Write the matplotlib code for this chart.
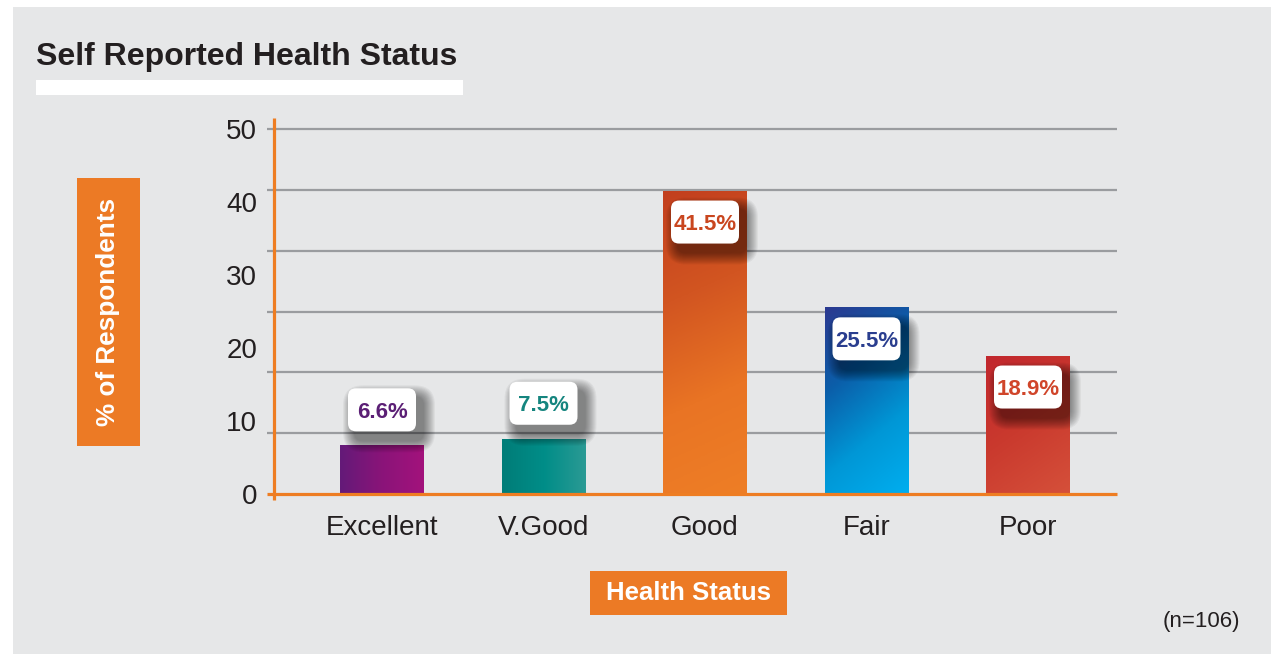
import numpy as np
import matplotlib
matplotlib.use("Agg")
import matplotlib.pyplot as plt
import matplotlib.transforms as mtransforms
from matplotlib.patches import Rectangle, FancyBboxPatch
from matplotlib.colors import LinearSegmentedColormap

plt.rcParams['font.family'] = ['Liberation Sans', 'DejaVu Sans']

# ---- data ----
categories = ["Excellent", "V.Good", "Good", "Fair", "Poor"]
values = [6.6, 7.5, 41.5, 25.5, 18.9]
value_labels = ["6.6%", "7.5%", "41.5%", "25.5%", "18.9%"]
y_ticks = [0, 10, 20, 30, 40, 50]
title = "Self Reported Health Status"
y_title = "% of Respondents"
x_title = "Health Status"
note = "(n=106)"

# ---- styling ----
W, H = 1271, 654
BG = "#e6e7e8"
ORANGE = "#ee7d22"
DARK = "#231f20"
GRID = "#9a9c9f"

# gradient stops and direction (dx, dy in pixel space) per bar
bar_gradients = [
    (["#641a78", "#8a1479", "#a3127c"], (1.0, 0.0)),
    (["#007d78", "#008d88", "#2a9a94"], (1.0, 0.0)),
    (["#c23f1e", "#d25521", "#e97424", "#ee7e26"], (0.45, 1.0)),
    (["#2b3990", "#0b5ea9", "#0097d6", "#00aeef"], (0.8, 1.0)),
    (["#c1272d", "#ca3a2e", "#d5503a"], (0.7, 1.0)),
]
label_colors = ["#5b1f75", "#15857f", "#c9461f", "#2a3e8f", "#d0452a"]


def fx(x):
    return x / W


def fy(y):
    return 1 - y / H


fig = plt.figure(figsize=(W / 100, H / 100), dpi=100, facecolor="white")

# panel background
fig.add_artist(Rectangle((fx(13), 0), 1 - fx(13), fy(7), transform=fig.transFigure,
                         facecolor=BG, edgecolor="none", zorder=-10))

# title and white rule beneath it
fig.text(fx(36), fy(65), title, fontsize=23, fontweight="bold", color=DARK,
         ha="left", va="baseline")
fig.add_artist(Rectangle((fx(36), fy(95)), fx(463) - fx(36), fy(80) - fy(95),
                         transform=fig.transFigure, facecolor="white",
                         edgecolor="none"))

# axes
ax_l, ax_r, ax_t, ax_b = 274, 1117, 129, 494
ax = fig.add_axes([fx(ax_l), fy(ax_b), (ax_r - ax_l) / W, (ax_b - ax_t) / H])
ax.set_facecolor("none")
for s in ax.spines.values():
    s.set_visible(False)

unit = 161.5  # pixels per category step
x0c = 382     # pixel centre of first category
xmin = (ax_l - x0c) / unit
xmax = (ax_r - x0c) / unit
ymax = 50
ppu = (ax_b - ax_t) / ymax  # pixels per percentage point

# gridlines (six equal bands) with small stubs left of the axis
grid_levels = np.linspace(0, ymax, 7)
ax.hlines(grid_levels[1:], xmin - 7 / unit, xmax, colors=GRID, lw=1.6,
          zorder=0, clip_on=False)

# orange axis lines
ax.plot([xmin - 7 / unit, xmax], [0, 0], color=ORANGE, lw=2.3, zorder=5,
        clip_on=False, solid_capstyle="butt")
ax.plot([xmin, xmin], [-6 / ppu, ymax + 11 / ppu], color=ORANGE, lw=2.3,
        zorder=5, clip_on=False, solid_capstyle="butt")

# gradient bars
bar_w = 84 / unit
for i, (v, (stops, (dx, dy))) in enumerate(zip(values, bar_gradients)):
    hpx = v * ppu
    ny, nx = 200, 60
    X, Y = np.meshgrid(np.linspace(0, 84, nx), np.linspace(0, hpx, ny))
    t = X * dx + Y * dy
    t = (t - t.min()) / max(t.max() - t.min(), 1e-9)
    cmap = LinearSegmentedColormap.from_list(f"bar{i}", stops)
    ax.imshow(cmap(t), extent=[i - bar_w / 2, i + bar_w / 2, 0, v],
              origin="upper", aspect="auto", interpolation="bilinear",
              zorder=2)

ax.set_xlim(xmin, xmax)
ax.set_ylim(0, ymax)

# value labels in white rounded boxes with soft drop shadow
box_w, box_h, rad = 68, 43, 8
for i, (v, lab, col) in enumerate(zip(values, value_labels, label_colors)):
    cy = -31 if v > 15 else 36  # pixel offset of box centre from bar top
    anchor = mtransforms.ScaledTranslation(i, v, ax.transData)
    local = mtransforms.Affine2D().translate(0, cy) + anchor
    sx, sy = 7, -9
    for k in range(1, 13):
        sh = FancyBboxPatch((-box_w / 2 + sx - k, -box_h / 2 + sy - k),
                            box_w + 2 * k, box_h + 2 * k,
                            boxstyle=f"round,pad=0,rounding_size={rad + k}",
                            transform=local, facecolor="black",
                            edgecolor="none", alpha=0.042, zorder=3,
                            clip_on=False)
        ax.add_patch(sh)
    box = FancyBboxPatch((-box_w / 2, -box_h / 2), box_w, box_h,
                         boxstyle=f"round,pad=0,rounding_size={rad}",
                         transform=local, facecolor="white", edgecolor="none",
                         zorder=4, clip_on=False)
    ax.add_patch(box)
    ax.text(0, 0, lab, transform=local, ha="center", va="center_baseline",
            fontsize=16, fontweight="bold", color=col, zorder=6)

# ticks
ax.set_yticks(y_ticks)
ax.set_yticklabels([str(t) for t in y_ticks])
ax.set_xticks(range(len(categories)))
ax.set_xticklabels(categories)
ax.tick_params(axis="y", length=0, pad=12, labelsize=20, labelcolor=DARK)
ax.tick_params(axis="x", length=0, pad=15, labelsize=20, labelcolor=DARK)

# axis title boxes
fig.add_artist(Rectangle((fx(77), fy(446)), fx(140) - fx(77), fy(178) - fy(446),
                         transform=fig.transFigure, facecolor="#ec7a25",
                         edgecolor="none"))
fig.text(fx(108.5), fy(312), y_title, rotation=90, ha="center", va="center",
         fontsize=18.8, fontweight="bold", color="white")
fig.add_artist(Rectangle((fx(590), fy(615)), fx(787) - fx(590), fy(571) - fy(615),
                         transform=fig.transFigure, facecolor="#ec7a25",
                         edgecolor="none"))
fig.text(fx(688.5), fy(593), x_title, ha="center", va="center",
         fontsize=18.5, fontweight="bold", color="white")

fig.text(fx(1201), fy(621), note, ha="center", va="center", fontsize=16,
         color=DARK)

fig.savefig("out.png", dpi=100, facecolor="white")
